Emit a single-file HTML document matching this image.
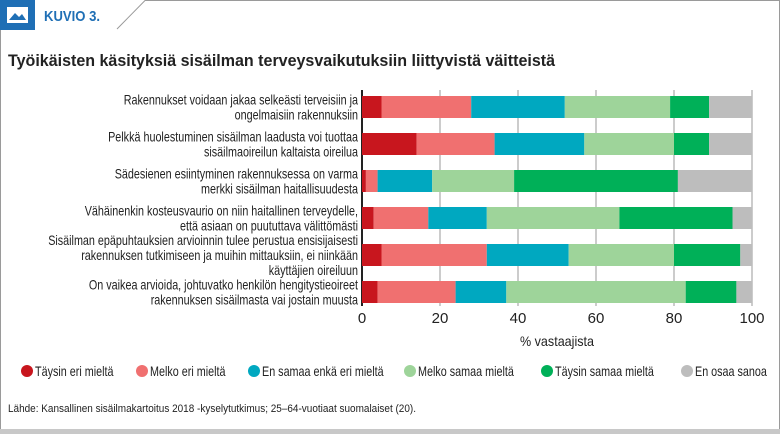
<!DOCTYPE html>
<html><head><meta charset="utf-8"><style>
html,body{margin:0;padding:0;background:#fff;}
svg{display:block;font-family:"Liberation Sans",sans-serif;}
</style></head><body>
<svg id="root" width="780" height="434" viewBox="0 0 780 434">
  <g>
    <path d="M0.5,30 L0.5,431 L779.5,431 L779.5,0.5 L145,0.5 L117,29" fill="none" stroke="#9a9a9a" stroke-width="1"/>
    <rect x="0" y="429" width="780" height="5" fill="#c8c8c8"/>
    <rect x="0" y="0" width="35" height="30" fill="#1f6fb5"/>
    <rect x="7" y="7" width="21" height="16" fill="#fff"/>
    <path d="M9,20 L15,13 L19,17 L22,14 L26,20 Z" fill="#1f6fb5"/>
    <text x="44" y="21" font-size="15" font-weight="bold" fill="#1f6fb5" textLength="56" lengthAdjust="spacingAndGlyphs">KUVIO 3.</text>
  </g>
  <text x="8" y="66" font-size="17" font-weight="bold" fill="#222" textLength="547" lengthAdjust="spacingAndGlyphs">Työikäisten käsityksiä sisäilman terveysvaikutuksiin liittyvistä väitteistä</text>
  <g id="grid"></g>
  <g id="bars"></g>
  <g id="labels"></g>
  <g id="ticks"></g>
  <text x="557" y="346" font-size="14" fill="#222" text-anchor="middle" textLength="74" lengthAdjust="spacingAndGlyphs">% vastaajista</text>
  <g id="legend"></g>
  <text x="8" y="412" font-size="11" fill="#222" textLength="408" lengthAdjust="spacingAndGlyphs">Lähde: Kansallinen sisäilmakartoitus 2018 -kyselytutkimus; 25–64-vuotiaat suomalaiset (20).</text>
</svg>
<script>
const categories = [
  ["Rakennukset voidaan jakaa selkeästi terveisiin ja","ongelmaisiin rakennuksiin"],
  ["Pelkkä huolestuminen sisäilman laadusta voi tuottaa","sisäilmaoireilun kaltaista oireilua"],
  ["Sädesienen esiintyminen rakennuksessa on varma","merkki sisäilman haitallisuudesta"],
  ["Vähäinenkin kosteusvaurio on niin haitallinen terveydelle,","että asiaan on puututtava välittömästi"],
  ["Sisäilman epäpuhtauksien arvioinnin tulee perustua ensisijaisesti","rakennuksen tutkimiseen ja muihin mittauksiin, ei niinkään","käyttäjien oireiluun"],
  ["On vaikea arvioida, johtuvatko henkilön hengitystieoireet","rakennuksen sisäilmasta vai jostain muusta"]
];
const seriesNames = ["Täysin eri mieltä","Melko eri mieltä","En samaa enkä eri mieltä","Melko samaa mieltä","Täysin samaa mieltä","En osaa sanoa"];
const taysinEri = [5,14,1,3,5,4];
const melkoEri = [23,20,3,14,27,20];
const enSamaaEnka = [24,23,14,15,21,13];
const melkoSamaa = [27,23,21,34,27,46];
const taysinSamaa = [10,9,42,29,17,13];
const enOsaa = [11,11,19,5,3,4];
const tickLabels = [0,20,40,60,80,100];
const series = [taysinEri,melkoEri,enSamaaEnka,melkoSamaa,taysinSamaa,enOsaa];
const colors = ["#c8161e","#f07070","#00a8c0","#9ed49a","#00b058","#bdbdbd"];
const NS="http://www.w3.org/2000/svg";
const x0=362,x1=752;
const xScale=v=>x0+(x1-x0)*v/100;
const rowTop=i=>96+i*37, barH=22;
const COND=0.77;
function mk(t,a){const e=document.createElementNS(NS,t);for(const k in a)e.setAttribute(k,a[k]);return e;}
function condense(tx){const w=tx.getComputedTextLength();tx.setAttribute('textLength',(w*COND).toFixed(1));tx.setAttribute('lengthAdjust','spacingAndGlyphs');}
const grid=document.getElementById('grid'),bars=document.getElementById('bars'),labels=document.getElementById('labels'),ticks=document.getElementById('ticks'),legend=document.getElementById('legend');
tickLabels.forEach(t=>{
  if(t>0){const l=mk('line',{x1:xScale(t),x2:xScale(t),y1:90,y2:306,stroke:'#999','stroke-width':1});
  
  
  grid.appendChild(l);}
  const tx=mk('text',{x:xScale(t),y:323,'font-size':15,fill:'#222','text-anchor':'middle'});
  tx.textContent=t;
  
  
  ticks.appendChild(tx);
});
categories.forEach((c,i)=>{
  let acc=0;
  series.forEach((s,j)=>{
    const v=s[i];
    const r=mk('rect',{x:xScale(acc),y:rowTop(i),width:xScale(acc+v)-xScale(acc),height:barH,fill:colors[j]});
    
    
    bars.appendChild(r);
    acc+=v;
  });
  const n=c.length, cy=rowTop(i)+barH/2, lh=15;
  c.forEach((line,k)=>{
    const y=cy-(n-1)*lh/2+k*lh+5;
    const tx=mk('text',{x:358,y:y,'font-size':14,fill:'#222','text-anchor':'end'});
    tx.textContent=line;
    
    
    labels.appendChild(tx);
    condense(tx);
  });
});
const axis=mk('line',{x1:x0,x2:x0,y1:90,y2:306,stroke:'#222','stroke-width':2});


grid.appendChild(axis);
const legX=[27,142,254,410,547,687];
seriesNames.forEach((nm,j)=>{
  const g=mk('g',{});
  
  
  g.appendChild(mk('circle',{cx:legX[j],cy:371,r:6,fill:colors[j]}));
  const tx=mk('text',{x:legX[j]+8,y:376,'font-size':14,fill:'#222'});
  tx.textContent=nm;
  g.appendChild(tx);
  legend.appendChild(g);
  condense(tx);
});
</script>
</body></html>
